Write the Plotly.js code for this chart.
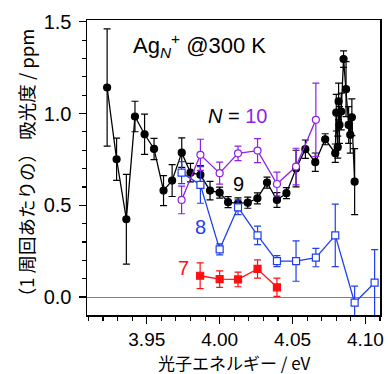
<!DOCTYPE html>
<html>
<head>
<meta charset="utf-8">
<script src="https://cdn.plot.ly/plotly-3.0.1.min.js"></script>
<style>html,body{margin:0;padding:0;background:#fff;}</style>
</head>
<body>
<div id="chart" style="width:388px;height:374px;"></div>
<script>
// N = 9 (filled circles, black)
const x9 = [3.9228,3.9293,3.9360,3.9419,3.9485,3.9550,3.9615,3.9674,3.9740,3.9800,3.9868,3.9934,4.0000,4.0058,4.0126,4.0193,4.0259,4.0325,4.0393,4.0458,4.0524,4.0588,4.0656,4.0724,4.0793,4.0800,4.0810,4.0816,4.0822,4.0834,4.0850,4.0867,4.0885,4.0896,4.0907,4.0926];
const y9 = [1.142,0.751,0.424,0.984,0.887,0.807,0.580,0.635,0.787,0.678,0.666,0.580,0.569,0.517,0.510,0.514,0.538,0.624,0.529,0.566,0.700,0.806,0.735,0.860,0.784,1.005,0.817,1.066,0.938,1.011,1.297,1.133,0.938,0.884,0.980,0.629];
const e9 = [0.32,0.115,0.245,0.083,0.11,0.058,0.082,0.087,0.08,0.05,0.05,0.05,0.03,0.03,0.03,0.03,0.03,0.03,0.04,0.03,0.10,0.05,0.05,0.03,0.05,0.10,0.06,0.10,0.10,0.10,0.045,0.15,0.10,0.10,0.10,0.18];

// N = 10 (open circles, purple)
const x10 = [3.9739,3.9868,4.0000,4.0126,4.0260,4.0393,4.0524,4.0660];
const y10 = [0.529,0.775,0.675,0.783,0.798,0.616,0.711,0.966];
const e10 = [0.075,0.085,0.06,0.04,0.065,0.065,0.10,0.20];

// N = 8 (open squares, blue)
const x8 = [3.9739,3.9868,4.0000,4.0126,4.0260,4.0393,4.0524,4.0660,4.0793,4.0926,4.1063];
const y8 = [0.678,0.611,0.260,0.489,0.336,0.196,0.196,0.215,0.336,-0.031,0.078];
const e8 = [0.06,0.10,0.03,0.04,0.05,0.03,0.11,0.05,0.17,0.09,0.18];

// N = 7 (filled squares, red)
const x7 = [3.9866,4.0000,4.0126,4.0260,4.0393];
const y7 = [0.116,0.098,0.096,0.153,0.053];
const e7 = [0.07,0.045,0.04,0.05,0.05];

const xTitle = '光子エネルギー / eV';
const yTitle = '（1 周回あたりの） 吸光度 / ppm';

const BLACK = '#000000', PURPLE = '#8f1fe8', BLUE = '#1f3ff0', RED = '#ff1010';

function series(x, y, e, color, symbol, fill) {
  return {
    x: x, y: y, type: 'scatter', mode: 'lines+markers',
    line: {color: color, width: 1.3},
    marker: {color: fill, size: 7, symbol: symbol, line: {color: color, width: 1.2}},
    error_y: {type: 'data', array: e, visible: true, color: color, thickness: 1.2, width: 3.5},
    showlegend: false, cliponaxis: true
  };
}

const traces = [
  series(x9, y9, e9, BLACK, 'circle', BLACK),
  series(x7, y7, e7, RED, 'square', RED),
  series(x8, y8, e8, BLUE, 'square', '#ffffff'),
  series(x10, y10, e10, PURPLE, 'circle', '#ffffff')
];

const FONT = 'Liberation Sans, Arial, Noto Sans CJK JP, sans-serif';
const CJK = 'Noto Sans CJK JP, Liberation Sans, sans-serif';

const layout = {
  width: 388, height: 374,
  margin: {l: 87, r: 8, t: 20, b: 59},
  paper_bgcolor: '#ffffff', plot_bgcolor: '#ffffff',
  font: {family: FONT, color: '#000'},
  xaxis: {
    range: [3.909, 4.110], tick0: 3.95, dtick: 0.05, tickformat: '.2f',
    ticks: 'outside', ticklen: 7, tickwidth: 1.3, tickcolor: '#000',
    minor: {dtick: 0.01, ticks: 'outside', ticklen: 4, tickwidth: 1.1, tickcolor: '#000'},
    showgrid: false, zeroline: false,
    showline: true, linecolor: '#000', linewidth: 1.5, mirror: true,
    tickfont: {size: 19, family: FONT},
    ticklabelstandoff: 0,
    title: {text: ''}
  },
  yaxis: {
    range: [-0.098, 1.51], tick0: 0, dtick: 0.5, tickformat: '.1f',
    ticks: 'outside', ticklen: 7, tickwidth: 1.3, tickcolor: '#000',
    minor: {dtick: 0.1, ticks: 'outside', ticklen: 4, tickwidth: 1.1, tickcolor: '#000'},
    showgrid: false,
    zeroline: true, zerolinecolor: '#808080', zerolinewidth: 1,
    showline: true, linecolor: '#000', linewidth: 1.5, mirror: true,
    tickfont: {size: 20, family: FONT},
    ticklabelstandoff: 3,
    title: {text: yTitle, font: {size: 18.5, family: CJK}, standoff: 4}
  },
  annotations: [
    {x: 0.5, y: -0.161, xref: 'paper', yref: 'paper', xanchor: 'center', yanchor: 'middle', showarrow: false,
     borderpad: 0, text: xTitle, font: {size: 17, color: BLACK, family: CJK}},
    {x: 3.9390, y: 1.373, xref: 'x', yref: 'y', xanchor: 'left', yanchor: 'middle', showarrow: false,
     text: 'Ag<sub><i>N</i></sub><sup>+</sup> @300 K', font: {size: 22, color: BLACK, family: FONT}},
    {x: 3.9905, y: 0.986, xref: 'x', yref: 'y', xanchor: 'left', yanchor: 'middle', showarrow: false,
     text: '<i>N</i> = <span style="color:' + PURPLE + '">10</span>', font: {size: 20, color: BLACK, family: FONT}},
    {x: 4.0126, y: 0.616, xref: 'x', yref: 'y', showarrow: false, text: '9', font: {size: 20, color: BLACK, family: FONT}},
    {x: 3.9872, y: 0.381, xref: 'x', yref: 'y', showarrow: false, text: '8', font: {size: 20, color: BLUE, family: FONT}},
    {x: 3.9755, y: 0.158, xref: 'x', yref: 'y', showarrow: false, text: '7', font: {size: 20, color: RED, family: FONT}}
  ]
};

Plotly.newPlot('chart', traces, layout, {staticPlot: true, displayModeBar: false});
</script>
</body>
</html>
